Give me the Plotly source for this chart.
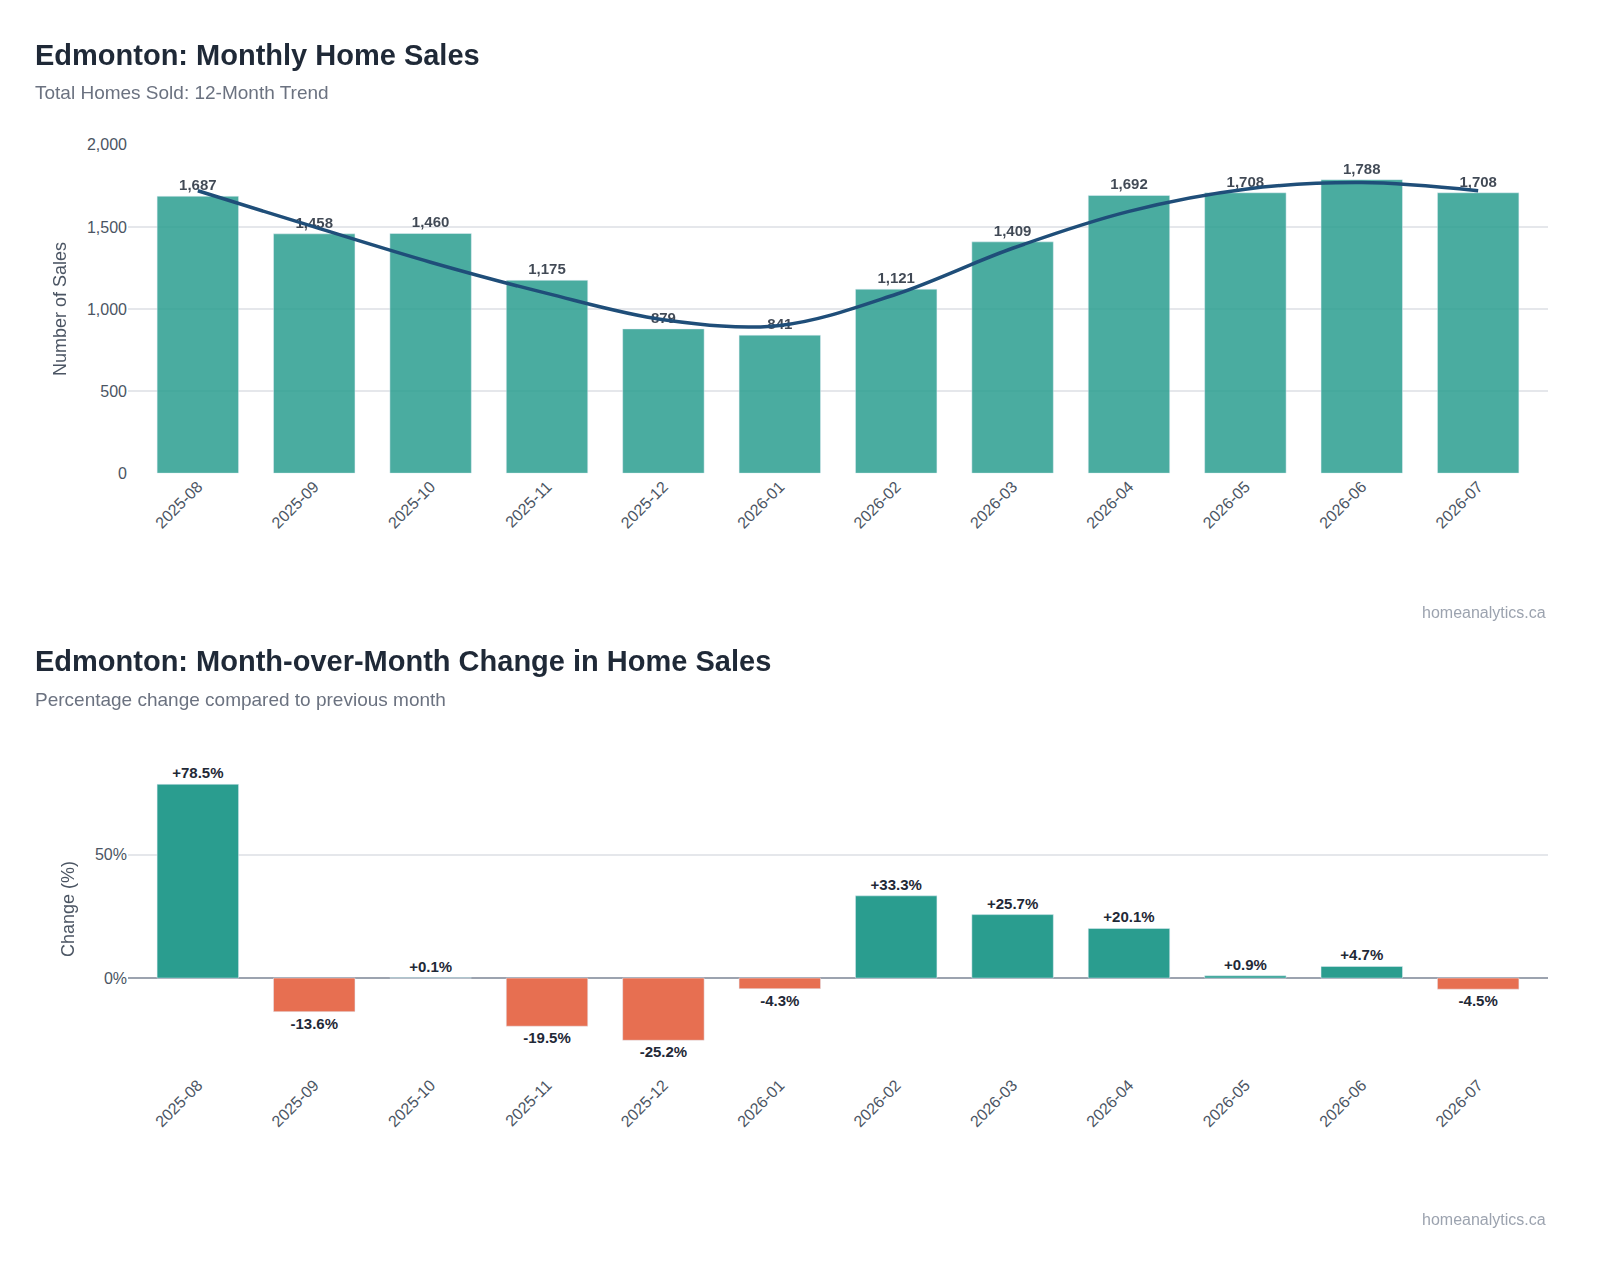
import plotly.graph_objects as go
from plotly.subplots import make_subplots

months = ["2025-08", "2025-09", "2025-10", "2025-11", "2025-12", "2026-01",
          "2026-02", "2026-03", "2026-04", "2026-05", "2026-06", "2026-07"]
sales = [1687, 1458, 1460, 1175, 879, 841, 1121, 1409, 1692, 1708, 1788, 1708]
trend = [1720, 1500, 1285, 1095, 935, 900, 1090, 1370, 1595, 1730, 1770, 1720]
mom_change = [78.5, -13.6, 0.1, -19.5, -25.2, -4.3, 33.3, 25.7, 20.1, 0.9, 4.7, -4.5]

TEAL = "#2a9d8f"
CORAL = "#e76f51"
NAVY = "#1f4e79"
FONT = "Liberation Sans, Arial, sans-serif"

fig = make_subplots(rows=2, cols=1)

fig.add_trace(go.Bar(
    x=months, y=sales, marker_color=TEAL, opacity=0.85, width=0.7,
    text=[f"{v:,}" for v in sales], textposition="outside",
    textfont=dict(size=15, color="#1f2937", family=FONT, weight="bold"),
    cliponaxis=False, showlegend=False,
), row=1, col=1)
fig.add_trace(go.Scatter(
    x=months, y=trend, mode="lines", line=dict(color=NAVY, width=3.5, shape="spline"),
    showlegend=False,
), row=1, col=1)

colors = [TEAL if v >= 0 else CORAL for v in mom_change]
fig.add_trace(go.Bar(
    x=months, y=mom_change, marker_color=colors, width=0.7,
    text=[f"{v:+.1f}%" for v in mom_change], textposition="outside",
    textfont=dict(size=15, color="#1f2937", family=FONT, weight="bold"),
    cliponaxis=False, showlegend=False,
), row=2, col=1)

axis_font = dict(size=16, color="#4b5563", family=FONT)
fig.update_xaxes(type="category", range=[-0.6, 11.6], domain=[0.075, 0.9625], tickangle=-45,
                 tickfont=axis_font, showgrid=False, showline=False, ticks="")
fig.update_yaxes(gridcolor="#e5e7eb", gridwidth=1.5, tickfont=axis_font, zeroline=False)
fig.update_yaxes(range=[0, 2000], dtick=500, tickformat=",", domain=[0.638, 0.898],
                 title=dict(text="Number of Sales", font=dict(size=18, color="#4b5563", family=FONT)),
                 row=1, col=1)
fig.update_yaxes(range=[-38, 94], tickvals=[0, 50], ticktext=["0%", "50%"],
                 domain=[0.164, 0.422], zeroline=True, zerolinecolor="#9ca3af", zerolinewidth=1.5,
                 title=dict(text="Change (%)", font=dict(size=18, color="#4b5563", family=FONT)),
                 row=2, col=1)

def txt(text, x, y, size, color, bold=False, anchor="left"):
    fig.add_annotation(text=f"<b>{text}</b>" if bold else text, x=x / 1600, y=1 - y / 1280,
                       xref="paper", yref="paper", xanchor=anchor, yanchor="middle",
                       showarrow=False, font=dict(size=size, color=color, family=FONT))

txt("Edmonton: Monthly Home Sales", 25, 40, 29, "#1f2937", True)
txt("Total Homes Sold: 12-Month Trend", 25, 78, 19, "#6b7280")
txt("homeanalytics.ca", 1540, 605, 16, "#9ca3af", anchor="right")
txt("Edmonton: Month-over-Month Change in Home Sales", 25, 654, 29, "#1f2937", True)
txt("Percentage change compared to previous month", 25, 693, 19, "#6b7280")
txt("homeanalytics.ca", 1540, 1220, 16, "#9ca3af", anchor="right")

fig.update_layout(width=1600, height=1280, margin=dict(l=0, r=0, t=0, b=0),
                  plot_bgcolor="white", paper_bgcolor="white", bargap=0.3,
                  font=dict(family=FONT))
fig.write_html("out.html")
